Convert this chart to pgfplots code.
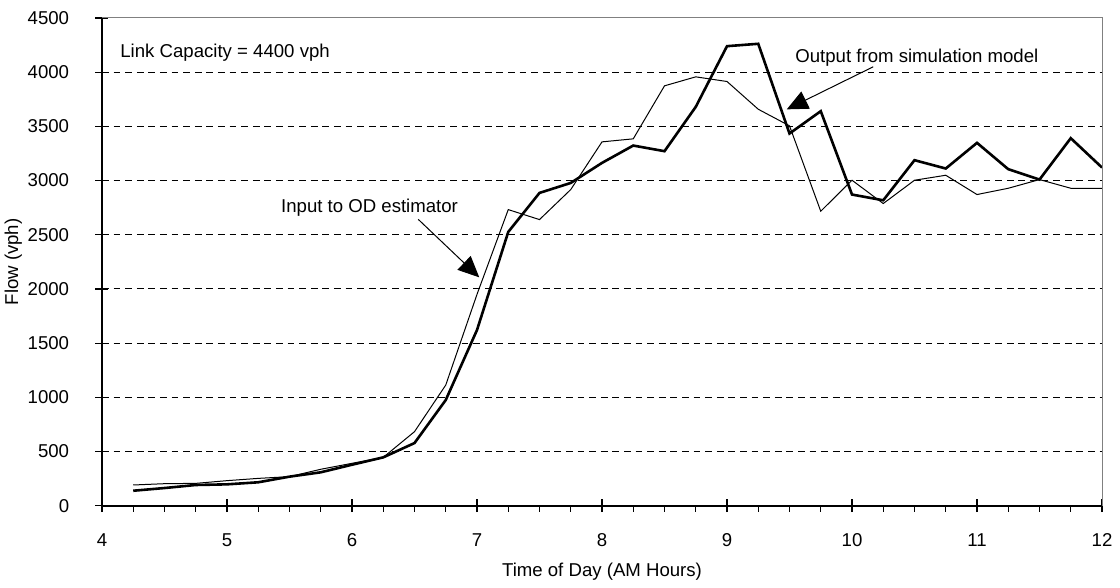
\documentclass[border=0pt]{standalone}
\usepackage{fontspec}
\setmainfont{Liberation Sans}
\usepackage{pgfplots}
\usepackage{pgfplotstable}
\pgfplotsset{compat=1.18}
\usetikzlibrary{arrows.meta}

% t = time of day, thin = input to OD estimator, thick = simulation output
\pgfplotstableread{
t      thin   thick
4.25   191    138
4.5    203    163
4.75   206    191
5.0    231    197
5.25   252    216
5.5    268    268
5.75   336    308
6.0    391    378
6.25   446    446
6.5    683    578
6.75   1113   975
7.0    1950   1621
7.25   2732   2526
7.5    2640   2886
7.75   2917   2978
8.0    3357   3163
8.25   3385   3323
8.5    3874   3271
8.75   3957   3680
9.0    3914   4240
9.25   3658   4262
9.5    3505   3434
9.75   2717   3640
10.0   3003   2871
10.25  2788   2818
10.5   3003   3188
10.75  3049   3111
11.0   2871   3348
11.25  2929   3105
11.5   3009   3009
11.75  2929   3391
12.0   2929   3120
}\flowdata

\begin{document}
\fontsize{9.3}{11.2}\selectfont
\begin{tikzpicture}
\begin{axis}[
    at={(0,0)}, anchor=south west,
    scale only axis,
    width=500pt, height=243.85pt,
    xmin=4, xmax=12, ymin=0, ymax=4500,
    xtick={4,...,12},
    ytick={0,500,...,4500},
    minor x tick num=3,
    axis lines*=left,
    axis line style={line width=1pt},
    tick align=center,
    major tick length=6.5pt,
    minor tick length=3pt,
    minor x tick style={yshift=-1.5pt},
    tick style={black, line width=0.6pt},
    ymajorgrids,
    major grid style={black, line width=0.5pt, dash pattern=on 3.4pt off 2.4pt},
    /pgf/number format/assume math mode=true,
    /pgf/number format/1000 sep={},
    scaled y ticks=false,
    yticklabel style={anchor=east, inner sep=0pt, xshift=-13pt},
    xticklabel style={anchor=north, inner sep=0pt, yshift=-10.5pt},
    xlabel={Time of Day (AM Hours)},
    ylabel={Flow (vph)},
    every axis x label/.style={at={(rel axis cs:0.5,0)}, anchor=center, yshift=-33pt},
    every axis y label/.style={at={(axis description cs:-0.0887,0.5)}, rotate=90, anchor=center},
    clip=false,
]
\addplot[black, line width=0.5pt] table[x=t, y=thin] {\flowdata};
\addplot[black, line width=1.3pt] table[x=t, y=thick] {\flowdata};

\draw[gray, line width=0.5pt] (rel axis cs:0,1) -- (rel axis cs:1,1) -- (rel axis cs:1,0);

\node[anchor=base west, inner sep=0pt] at (axis cs:4.144,4137) {Link Capacity = 4400 vph};
\node[anchor=base west, inner sep=0pt] at (axis cs:5.43,2703) {Input to OD estimator};
\node[anchor=base west, inner sep=0pt] at (axis cs:9.544,4090) {Output from simulation model};
\draw[line width=0.5pt, -{Triangle[length=10.5pt, width=9.5pt]}] (axis cs:6.53,2642) -- (axis cs:7.018,2107);
\draw[line width=0.5pt, -{Triangle[length=10.5pt, width=9.5pt]}] (axis cs:10.17,4050) -- (axis cs:9.478,3657);
\end{axis}
\pgfresetboundingbox
\path[use as bounding box] (-51pt,-41.15pt) rectangle (509pt,252.85pt);
\end{tikzpicture}
\end{document}
